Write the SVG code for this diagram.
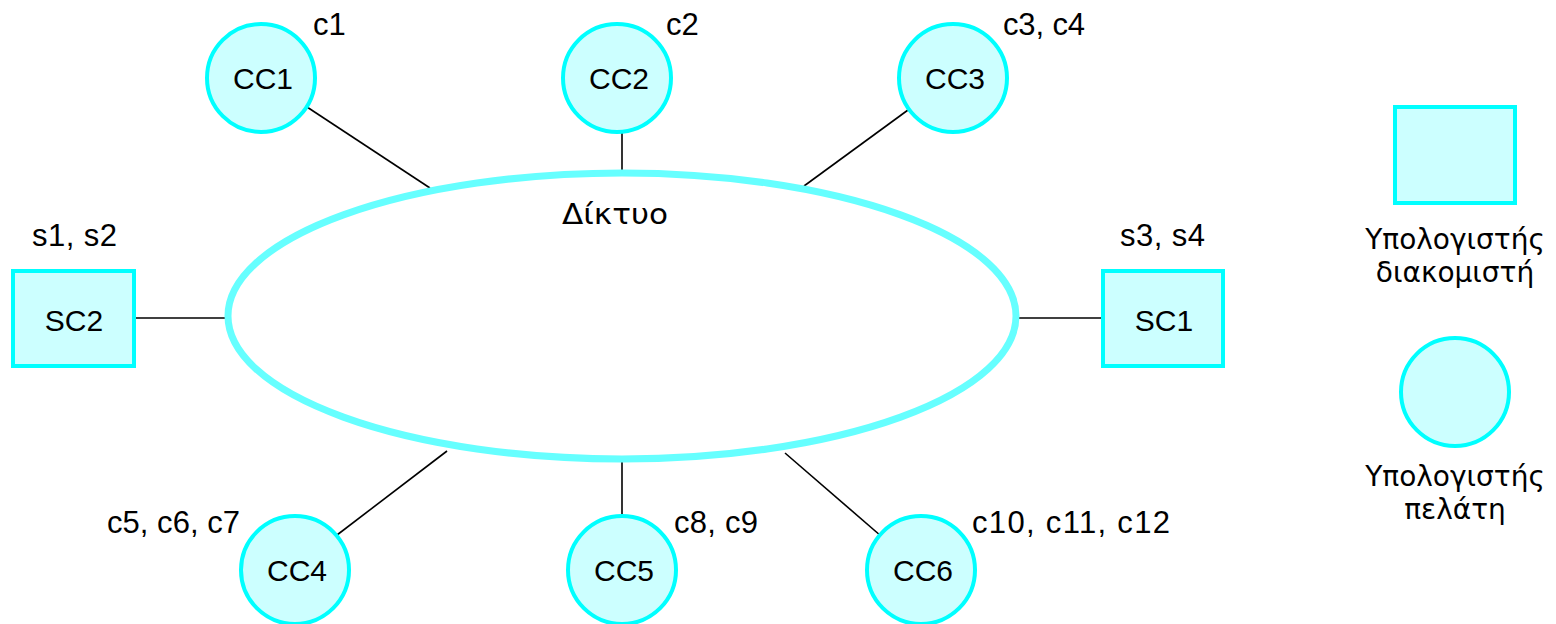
<svg xmlns="http://www.w3.org/2000/svg" width="1556" height="624" viewBox="0 0 1556 624">
<style>
.node{fill:#ccffff;stroke:#00ffff;stroke-width:4}
.net{fill:none;stroke:#66ffff;stroke-width:7}
.conn{stroke:#000;stroke-width:1.6;fill:none}
text{font-family:"Liberation Sans",Arial,sans-serif;font-size:30px;fill:#000}
.c{text-anchor:middle}
.lb{font-size:31px}
.lg{font-family:"DejaVu Sans","Noto Sans",sans-serif;font-size:28px;text-anchor:middle}
</style>
<rect width="1556" height="624" fill="#fff"/>
<g id="connectors">
<line class="conn" x1="307" y1="107" x2="430" y2="188"/>
<line class="conn" x1="622" y1="133" x2="622" y2="172"/>
<line class="conn" x1="908" y1="110" x2="804" y2="186"/>
<line class="conn" x1="135" y1="318" x2="226" y2="318"/>
<line class="conn" x1="1016" y1="318" x2="1103" y2="318"/>
<line class="conn" x1="337" y1="535" x2="447" y2="451"/>
<line class="conn" x1="622" y1="460" x2="622" y2="515"/>
<line class="conn" x1="881" y1="536" x2="785" y2="453"/>
</g>
<g id="network">
<ellipse class="net" cx="622" cy="316" rx="394" ry="143"/>
<text class="lg" x="615" y="224" font-size="30" textLength="106" lengthAdjust="spacingAndGlyphs">Δίκτυο</text>
</g>
<g id="CC1"><circle class="node" cx="261" cy="78" r="54"/><text class="c" x="263" y="89">CC1</text><text class="lb" x="313" y="35">c1</text></g>
<g id="CC2"><circle class="node" cx="617" cy="78" r="54"/><text class="c" x="619" y="89">CC2</text><text class="lb" x="666" y="35">c2</text></g>
<g id="CC3"><circle class="node" cx="953" cy="78" r="54"/><text class="c" x="955" y="89">CC3</text><text class="lb" x="1003" y="35" textLength="82">c3, c4</text></g>
<g id="SC2"><rect class="node" x="13" y="271" width="121" height="95"/><text class="c" x="74" y="331">SC2</text><text class="lb" x="32" y="246" textLength="85">s1, s2</text></g>
<g id="SC1"><rect class="node" x="1103" y="271" width="120" height="95"/><text class="c" x="1164" y="331">SC1</text><text class="lb" x="1120" y="246" textLength="85">s3, s4</text></g>
<g id="CC4"><circle class="node" cx="295" cy="570" r="54"/><text class="c" x="297" y="581">CC4</text><text class="lb" x="107" y="533" textLength="133">c5, c6, c7</text></g>
<g id="CC5"><circle class="node" cx="622" cy="570" r="54"/><text class="c" x="624" y="581">CC5</text><text class="lb" x="674" y="533" textLength="84">c8, c9</text></g>
<g id="CC6"><circle class="node" cx="921" cy="570" r="54"/><text class="c" x="923" y="581">CC6</text><text class="lb" x="972" y="533" textLength="198">c10, c11, c12</text></g>
<g id="legend-server"><rect class="node" x="1395" y="107" width="120" height="96"/><text class="lg" x="1455" y="249">Υπολογιστής</text><text class="lg" x="1455" y="282">διακομιστή</text></g>
<g id="legend-client"><circle class="node" cx="1455" cy="392" r="54"/><text class="lg" x="1455" y="486">Υπολογιστής</text><text class="lg" x="1455" y="519">πελάτη</text></g>
</svg>
